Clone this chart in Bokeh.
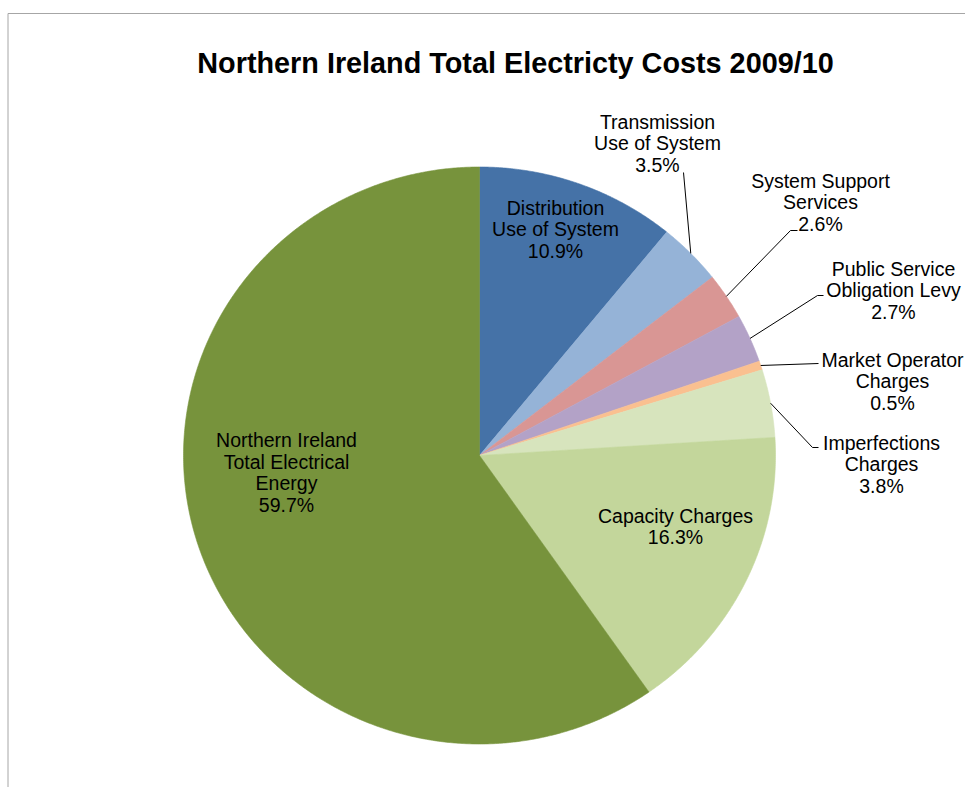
import numpy as np
from bokeh.plotting import figure
from bokeh.models import Range1d, Label
from bokeh.core.properties import value
from bokeh.embed import file_html
from bokeh.resources import INLINE

# ---------------- data ----------------
title_text = "Northern Ireland Total Electricty Costs 2009/10"
categories = [
    "Distribution\nUse of System",
    "Transmission\nUse of System",
    "System Support\nServices",
    "Public Service\nObligation Levy",
    "Market Operator\nCharges",
    "Imperfections\nCharges",
    "Capacity Charges",
    "Northern Ireland\nTotal Electrical\nEnergy",
]
shares = [10.9, 3.5, 2.6, 2.7, 0.5, 3.8, 16.3, 59.7]
colors = ["#4572A7", "#95B3D7", "#D99694", "#B3A2C7",
          "#FAC090", "#D7E4BD", "#C3D69B", "#77933C"]

# ---------------- layout (page pixels) ----------------
OFF = 0                    # canvas origin on the page
W, H = 965, 787
CX, CY = 479, 455          # pie centre on the page
RX, RY = 296, 288.5        # pie radii
label_pos = [(555, 229), (657, 143), (820, 202), (893, 290),
             (892, 381), (881, 464), (675, 526), (286, 472)]
leader_pts = {1: [(683, 172)],
              2: [(797, 230), (790, 230)],
              3: [(823, 295), (817, 295)],
              4: [(818, 363)],
              5: [(818, 447), (812, 447)]}


def dx(px):
    return px - CX


def dy(py):
    return CY - py


p = figure(width=W, height=H, output_backend="svg", toolbar_location=None,
           min_border=0, x_axis_location=None, y_axis_location=None,
           x_range=Range1d(dx(OFF), dx(OFF + W)), y_range=Range1d(dy(OFF + H), dy(OFF)))
p.grid.visible = False
p.outline_line_color = None
p.background_fill_color = "white"
p.border_fill_color = "white"

# chart-area border (left and top edges visible)
p.segment(x0=[dx(7.5), dx(7.5)], y0=[dy(13), dy(13)],
          x1=[dx(7.5), dx(OFF + W)], y1=[dy(OFF + H), dy(13)],
          line_color="#A6A6A6", line_width=1)

# pie slices, clockwise from 12 o'clock
total = float(sum(shares))
cum = np.concatenate([[0.0], np.cumsum(shares)]) / total * 2 * np.pi
xs, ys = [], []
for a0, a1 in zip(cum[:-1], cum[1:]):
    t = np.linspace(a0, a1, max(int((a1 - a0) * 150), 4))
    xs.append(np.concatenate([[0.0], RX * np.sin(t)]).tolist())
    ys.append(np.concatenate([[0.0], RY * np.cos(t)]).tolist())
p.patches(xs, ys, fill_color=colors, line_color=colors, line_width=0.6)

# leader lines
mids = (cum[:-1] + cum[1:]) / 2
lx, ly = [], []
for i, pts in leader_pts.items():
    xx = [dx(a) for a, b in pts] + [RX * np.sin(mids[i])]
    yy = [dy(b) for a, b in pts] + [RY * np.cos(mids[i])]
    lx.append(xx)
    ly.append(yy)
p.multi_line(lx, ly, line_color="black", line_width=1)

# data labels
texts = [f"{c}\n{s:.1f}%" for c, s in zip(categories, shares)]
p.text(x=[dx(a) for a, b in label_pos], y=[dy(b) for a, b in label_pos],
       text=texts, text_align="center", text_baseline="middle",
       text_font=value("Liberation Sans"), text_font_size="19.5px",
       text_line_height=0.99, text_color="#000000")

# title
p.add_layout(Label(x=dx(515), y=dy(62), text=title_text,
                   text_align="center", text_baseline="middle",
                   text_font="Liberation Sans", text_font_style="bold",
                   text_font_size="28.8px", text_color="#000000"))

open("out.html", "w").write(file_html(p, INLINE))
